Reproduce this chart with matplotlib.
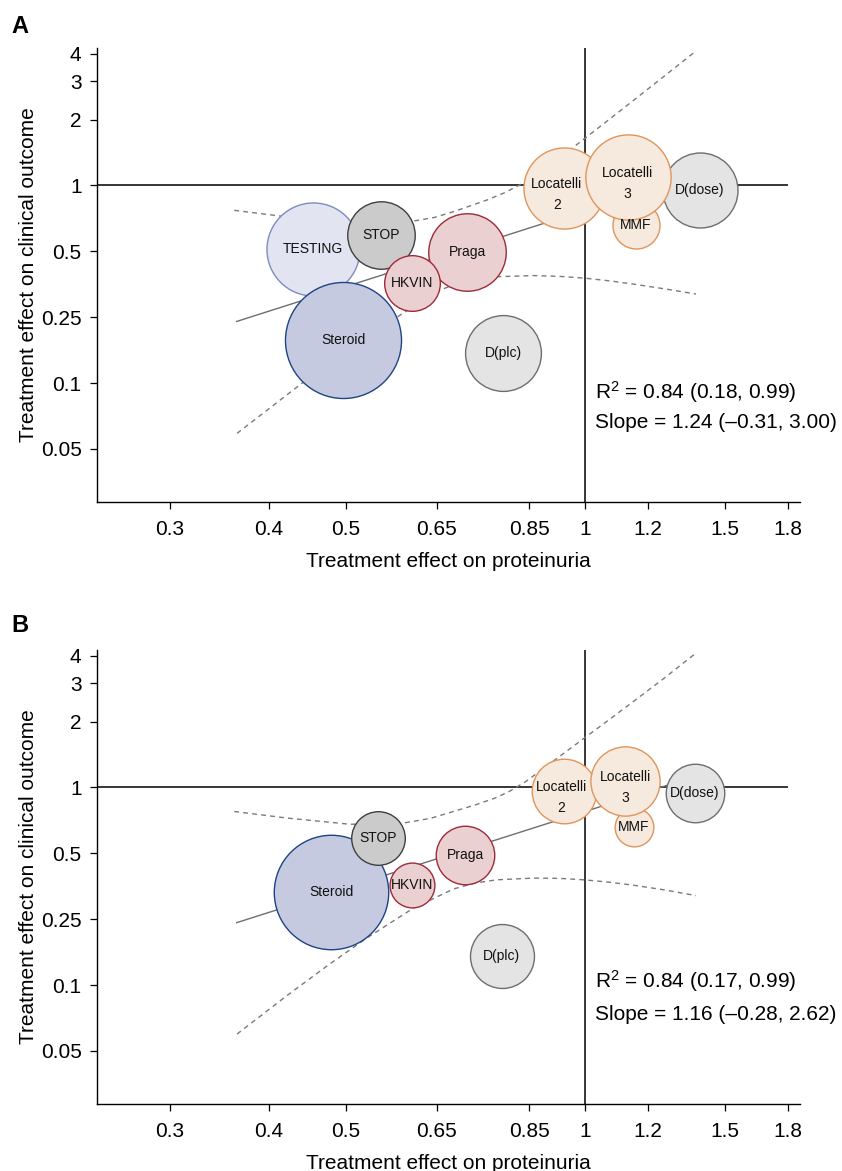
import matplotlib
matplotlib.use('Agg')
import matplotlib.pyplot as plt
from matplotlib.ticker import FixedLocator, FixedFormatter, NullLocator

plt.rcParams['font.family'] = ['Liberation Sans', 'DejaVu Sans']
plt.rcParams['mathtext.fontset'] = 'custom'
plt.rcParams['mathtext.rm'] = 'Liberation Sans'
plt.rcParams['mathtext.default'] = 'regular'

# --- data (effect ratios, log scale) ---
names_a = ['D(dose)', 'MMF', 'Locatelli\n2', 'Locatelli\n3', 'D(plc)', 'Praga',
           'TESTING', 'Steroid', 'STOP', 'HKVIN']
prot_a = [1.394, 1.159, 0.942, 1.131, 0.788, 0.710, 0.454, 0.496, 0.553, 0.606]
clin_a = [0.954, 0.661, 0.969, 1.090, 0.172, 0.497, 0.511, 0.197, 0.591, 0.359]
weight_a = [8.9, 3.5, 10.4, 11.5, 9.1, 9.5, 13.7, 21.3, 7.2, 4.9]

names_b = ['D(dose)', 'MMF', 'Locatelli\n2', 'Locatelli\n3', 'D(plc)', 'Praga',
           'Steroid', 'STOP', 'HKVIN']
prot_b = [1.375, 1.151, 0.942, 1.124, 0.785, 0.706, 0.479, 0.549, 0.606]
clin_b = [0.941, 0.658, 0.968, 1.071, 0.170, 0.492, 0.333, 0.588, 0.360]
weight_b = [8.7, 3.8, 10.6, 12.2, 10.4, 8.7, 33.3, 7.3, 5.1]

# regression line end points
fit_x = [0.364, 1.38]
fit_a = [0.239, 1.12]
fit_b = [0.241, 1.128]

# confidence band (dashed)
up_x_a = [0.3615, 0.4131, 0.4987, 0.6109, 0.6455, 0.6827, 0.7521, 0.7930, 0.8363,
          0.8777, 0.9167, 0.9574, 1.0, 1.0752, 1.1617, 1.2610, 1.3795]
up_y_a = [0.770, 0.725, 0.688, 0.690, 0.714, 0.759, 0.858, 0.929, 1.027,
          1.153, 1.294, 1.456, 1.645, 2.020, 2.517, 3.183, 4.120]
lo_x_a = [0.3644, 0.4399, 0.5060, 0.5850, 0.6568, 0.6961, 0.7376, 0.7742, 0.8608,
          0.9301, 1.0, 1.0752, 1.1503, 1.2610, 1.3795]
lo_y_a = [0.0736, 0.1247, 0.1798, 0.2558, 0.3329, 0.3602, 0.3765, 0.3829, 0.3874,
          0.3841, 0.3769, 0.3663, 0.3542, 0.3367, 0.3191]

up_x_b = [0.3615, 0.4212, 0.5060, 0.5906, 0.6381, 0.6827, 0.7270, 0.7704, 0.8046,
          0.8404, 0.8777, 0.9212, 1.0, 1.0752, 1.1503, 1.2610, 1.3795]
up_y_b = [0.777, 0.725, 0.679, 0.688, 0.722, 0.777, 0.832, 0.895, 0.964,
          1.060, 1.190, 1.357, 1.693, 2.057, 2.473, 3.183, 4.120]
lo_x_b = [0.3644, 0.4212, 0.4775, 0.5311, 0.6079, 0.6827, 0.7270, 0.7742, 0.8608,
          0.9301, 1.0, 1.0752, 1.1503, 1.2610, 1.3795]
lo_y_b = [0.0746, 0.1119, 0.1566, 0.2053, 0.2810, 0.3436, 0.3660, 0.3785, 0.3853,
          0.3841, 0.3781, 0.3687, 0.3576, 0.3400, 0.3205]

stats_a = [r'R$^{2}$ = 0.84 (0.18, 0.99)', 'Slope = 1.24 (\u20130.31, 3.00)']
stats_b = [r'R$^{2}$ = 0.84 (0.17, 0.99)', 'Slope = 1.16 (\u20130.28, 2.62)']

x_ticks = [0.3, 0.4, 0.5, 0.65, 0.85, 1, 1.2, 1.5, 1.8]
x_labels = ['0.3', '0.4', '0.5', '0.65', '0.85', '1', '1.2', '1.5', '1.8']
y_ticks = [0.0625, 0.125, 0.25, 0.5, 1, 2, 3, 4]
y_labels = ['0.05', '0.1', '0.25', '0.5', '1', '2', '3', '4']

# bubble colours: (fill, edge)
colors = {
    'D(dose)': ('#e4e4e4', '#6e6e6e'),
    'D(plc)': ('#e4e4e4', '#6e6e6e'),
    'MMF': ('#f6e9de', '#e0955a'),
    'Locatelli\n2': ('#f6e9de', '#e0955a'),
    'Locatelli\n3': ('#f6e9de', '#e0955a'),
    'Praga': ('#ebd0d1', '#9e2a3a'),
    'HKVIN': ('#ebd0d1', '#9e2a3a'),
    'TESTING': ('#e2e4f1', '#7d8cc0'),
    'Steroid': ('#c5cae1', '#1d4485'),
    'STOP': ('#cccbcb', '#404040'),
}


def draw_panel(ax, names, px, py, w, size_scale, fit_y, ux, uy, lx, ly, stats, stats_y, offsets):
    ax.set_xscale('log')
    ax.set_yscale('log')
    ax.set_xlim(0.243, 1.865)
    ax.set_ylim(0.03574, 4.265)

    ax.hlines(1, 0.243, 1.8, color='black', lw=1.1, zorder=1)
    ax.axvline(1, color='black', lw=1.1, zorder=1)
    ax.plot(fit_x, fit_y, color='#6e6e6e', lw=1.0, zorder=2)
    ax.plot(ux, uy, color='#7a7a7a', lw=1.0, ls=(0, (3.5, 3)), zorder=2)
    ax.plot(lx, ly, color='#7a7a7a', lw=1.0, ls=(0, (3.5, 3)), zorder=2)

    for i, name in enumerate(names):
        face, edge = colors[name]
        ax.scatter(px[i], py[i], s=w[i] * size_scale, facecolor=face, edgecolor=edge,
                   linewidth=1.0, zorder=3 + i)
        off = offsets.get(name, (0, -4.5) if '\n' in name else (0, 0))
        ax.annotate(name, (px[i], py[i]), xytext=off, textcoords='offset points',
                    ha='center', va='center', fontsize=10, linespacing=1.6,
                    color='#111111', zorder=20)

    ax.text(0.708, stats_y[0], stats[0], transform=ax.transAxes, fontsize=15, va='center')
    ax.text(0.708, stats_y[1], stats[1], transform=ax.transAxes, fontsize=15, va='center')

    ax.spines['top'].set_visible(False)
    ax.spines['right'].set_visible(False)
    for s in ['left', 'bottom']:
        ax.spines[s].set_linewidth(1.0)

    ax.xaxis.set_major_locator(FixedLocator(x_ticks))
    ax.xaxis.set_major_formatter(FixedFormatter(x_labels))
    ax.xaxis.set_minor_locator(NullLocator())
    ax.yaxis.set_major_locator(FixedLocator(y_ticks))
    ax.yaxis.set_major_formatter(FixedFormatter(y_labels))
    ax.yaxis.set_minor_locator(NullLocator())
    ax.tick_params(axis='x', direction='out', length=5.3, width=0.9, labelsize=15, pad=8)
    ax.tick_params(axis='y', direction='out', length=5.3, width=0.9, labelsize=15, pad=6)

    ax.set_xlabel('Treatment effect on proteinuria', fontsize=15)
    ax.set_ylabel('Treatment effect on clinical outcome', fontsize=15)
    ax.xaxis.set_label_coords(0.5, -0.1094)
    ax.yaxis.set_label_coords(-0.0848, 0.5)


fig = plt.figure(figsize=(8.42, 11.71), dpi=100)
W, H = 842, 1171
left = 97.3 / W
width = (800 - 97.3) / W
height = (502 - 47.7) / H
ax_a = fig.add_axes([left, 1 - 502 / H, width, height])
ax_b = fig.add_axes([left, 1 - 1104 / H, width, height])

draw_panel(ax_a, names_a, prot_a, clin_a, weight_a, 327.7, fit_a,
           up_x_a, up_y_a, lo_x_a, lo_y_a, stats_a, [0.2428, 0.1744],
           {'Locatelli\n2': (-5.6, -4.5)})
draw_panel(ax_b, names_b, prot_b, clin_b, weight_b, 203.9, fit_b,
           up_x_b, up_y_b, lo_x_b, lo_y_b, stats_b, [0.2696, 0.1963],
           {'Locatelli\n2': (-2.2, -4.8)})

fig.text(11 / W, 1 - 15 / H, 'A', fontsize=17, fontweight='bold', va='top')
fig.text(11 / W, 1 - 614 / H, 'B', fontsize=17, fontweight='bold', va='top')

fig.savefig('out.png', dpi=100)
